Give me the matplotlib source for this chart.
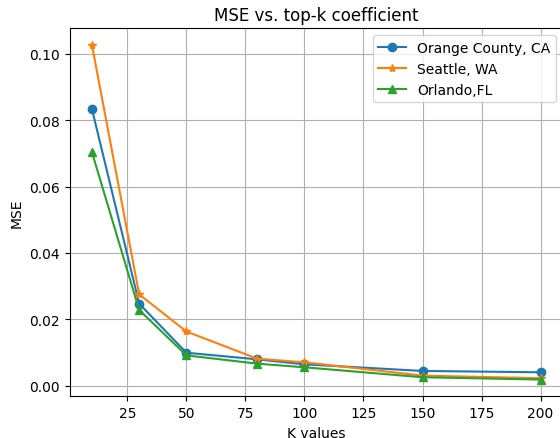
import matplotlib
matplotlib.use("Agg")
import matplotlib.pyplot as plt

k_values = [10, 30, 50, 80, 100, 150, 200]
orange_county = [0.0834, 0.0247, 0.0099, 0.0079, 0.0064, 0.0044, 0.0040]
seattle = [0.1027, 0.0275, 0.0163, 0.0081, 0.0070, 0.0030, 0.0022]
orlando = [0.0704, 0.0228, 0.0091, 0.0066, 0.0055, 0.0025, 0.0018]

dpi = 100
fig, ax = plt.subplots(figsize=(560 / dpi, 439 / dpi), dpi=dpi)
ax.plot(k_values, orange_county, marker='o', label='Orange County, CA')
ax.plot(k_values, seattle, marker='*', label='Seattle, WA')
ax.plot(k_values, orlando, marker='^', label='Orlando,FL')
ax.set_title('MSE vs. top-k coefficient')
ax.set_xlabel('K values')
ax.set_ylabel('MSE')
ax.grid(True)
ax.legend(loc='upper right')
fig.subplots_adjust(left=69.5 / 560, right=563 / 560, top=1 - 29.3 / 439, bottom=1 - 397.3 / 439)
fig.savefig('out.png', dpi=dpi)
